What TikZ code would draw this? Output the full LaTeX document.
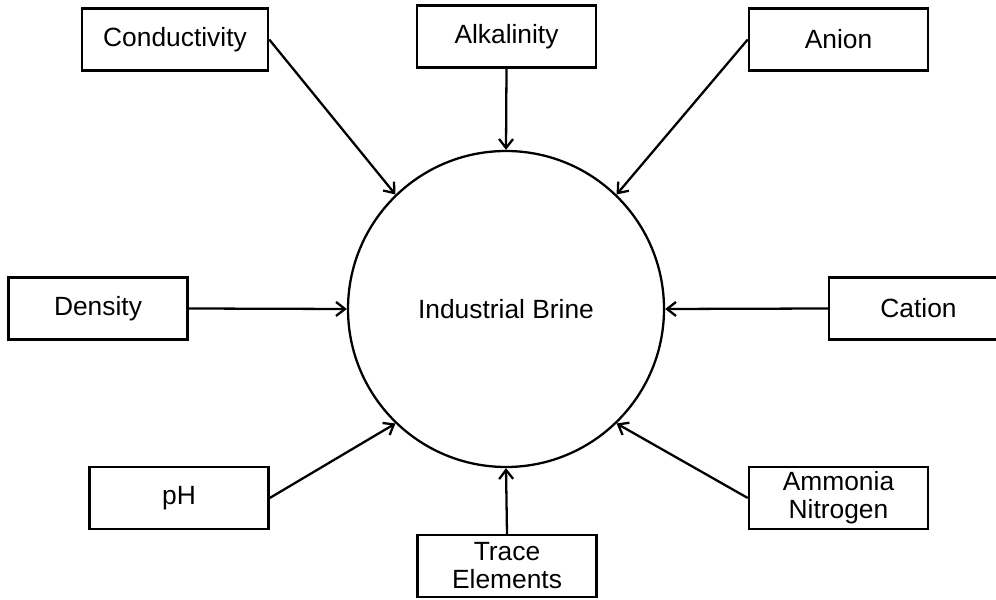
\documentclass[tikz,border=0pt]{standalone}
\usepackage{fontspec}
\setmainfont{Liberation Sans}
\usepackage{tikz}
\usetikzlibrary{arrows.meta,positioning}
\tikzset{
  feed/.style={-{Straight Barb[length=1.8mm,width=2.8mm]},line width=1.3pt},
  param/.style={draw=black,line width=1.4pt,minimum width=35.8mm,minimum height=12.4mm,
                inner sep=2pt,align=center,font=\fontsize{15}{16}\selectfont},
  sample/.style={draw=black,line width=1.3pt,circle,minimum size=63.2mm,inner sep=0pt,
                 font=\fontsize{15}{16}\selectfont},
}
\begin{document}
\begin{tikzpicture}[x=1cm,y=1cm]
  \path[use as bounding box] (0,0) rectangle (19.92,11.98);

  \node[sample] (BRN) at (10.12,5.80) {Industrial Brine};

  \node[param,minimum width=37.2mm] (CON) at (3.50,11.19) {Conductivity};
  \node[param] (ALK) at (10.13,11.25) {Alkalinity};
  \node[param] (ANI) at (16.77,11.19) {Anion};
  \node[param] (DEN) at (1.96,5.81) {Density};
  \node[param] (CAT) at (18.37,5.81) {Cation};
  \node[param] (PH)  at (3.58,2.02) {pH};
  \node[param] (TRC) at (10.14,0.66) {Trace\\Elements};
  \node[param] (AMN) at (16.77,2.02) {Ammonia\\Nitrogen};

  \draw[feed] (CON.east)--(BRN.134);
  \draw[feed] (ALK.south)--(BRN.north);
  \draw[feed] (ANI.west)--(BRN.46);
  \draw[feed] (DEN.east)--(BRN.west);
  \draw[feed] (CAT.west)--(BRN.east);
  \draw[feed] (PH.east)--(BRN.226);
  \draw[feed] (TRC.north)--(BRN.south);
  \draw[feed] (AMN.west)--(BRN.314);
\end{tikzpicture}
\end{document}
